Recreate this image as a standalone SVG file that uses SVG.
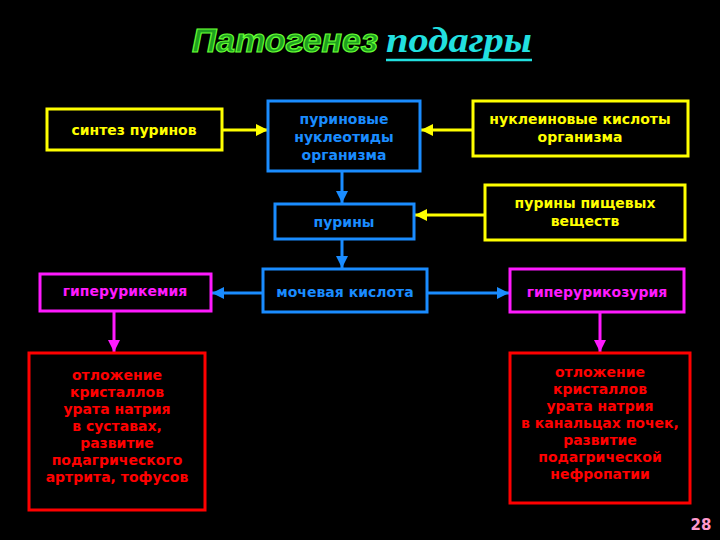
<svg xmlns="http://www.w3.org/2000/svg" width="720" height="540" viewBox="0 0 720 540">
<defs>
<style>
.bg{fill:#000}
rect{fill:#000;stroke-width:3}
.y rect{stroke:#ffff00}
.b rect{stroke:#1a8cff}
.m rect{stroke:#ff1aff}
.r rect{stroke:#ff0000}
text{font-family:"DejaVu Sans","Liberation Sans",sans-serif;font-weight:bold;font-size:14px;text-anchor:middle}
.y text{fill:#ffff00}
.b text{fill:#1a8cff}
.m text{fill:#ff1aff}
.r text{fill:#ff0000}
.cy{stroke:#ffff00;stroke-width:3;fill:none}
.cb{stroke:#1a8cff;stroke-width:3;fill:none}
.cm{stroke:#ff1aff;stroke-width:3;fill:none}
</style>
<marker id="ay" viewBox="0 0 10 10" refX="10" refY="5" markerWidth="4" markerHeight="4" orient="auto" markerUnits="strokeWidth"><path d="M0,0 L10,5 L0,10 z" fill="#ffff00"/></marker>
<marker id="ab" viewBox="0 0 10 10" refX="10" refY="5" markerWidth="4" markerHeight="4" orient="auto" markerUnits="strokeWidth"><path d="M0,0 L10,5 L0,10 z" fill="#1a8cff"/></marker>
<marker id="am" viewBox="0 0 10 10" refX="10" refY="5" markerWidth="4" markerHeight="4" orient="auto" markerUnits="strokeWidth"><path d="M0,0 L10,5 L0,10 z" fill="#ff1aff"/></marker>
</defs>
<rect class="bg" x="0" y="0" width="720" height="540" style="stroke:none"/>
<g id="title">
<text x="192" y="52" style="text-anchor:start;font-family:'Liberation Sans',sans-serif;font-style:italic;font-weight:bold;font-size:34px;fill:#1f9f1f;stroke:#66ff33;stroke-width:1.2" textLength="186" lengthAdjust="spacingAndGlyphs">Патогенез</text>
<text x="386" y="52" style="text-anchor:start;font-family:'Liberation Serif',serif;font-style:italic;font-weight:bold;font-size:36px;fill:#22e0e0" textLength="146" lengthAdjust="spacingAndGlyphs">подагры</text>
<line x1="386" y1="60" x2="532" y2="60" stroke="#22e0e0" stroke-width="2.5"/>
</g>
<g id="connectors">
<line class="cy" x1="222" y1="130" x2="268" y2="130" marker-end="url(#ay)"/>
<line class="cy" x1="473" y1="130" x2="421" y2="130" marker-end="url(#ay)"/>
<line class="cb" x1="342" y1="171" x2="342" y2="203" marker-end="url(#ab)"/>
<line class="cy" x1="485" y1="215" x2="415" y2="215" marker-end="url(#ay)"/>
<line class="cb" x1="342" y1="239" x2="342" y2="268" marker-end="url(#ab)"/>
<line class="cb" x1="263" y1="293" x2="212" y2="293" marker-end="url(#ab)"/>
<line class="cb" x1="427" y1="293" x2="509" y2="293" marker-end="url(#ab)"/>
<line class="cm" x1="114" y1="311" x2="114" y2="352" marker-end="url(#am)"/>
<line class="cm" x1="600" y1="312" x2="600" y2="352" marker-end="url(#am)"/>
</g>
<g id="n1" class="y"><rect x="47" y="109" width="175" height="41"/><text x="134" y="135">синтез пуринов</text></g>
<g id="n2" class="b"><rect x="268" y="101" width="152" height="70"/><text x="344" y="124">пуриновые</text><text x="344" y="142">нуклеотиды</text><text x="344" y="160">организма</text></g>
<g id="n3" class="y"><rect x="473" y="101" width="215" height="55"/><text x="580" y="124">нуклеиновые кислоты</text><text x="580" y="142">организма</text></g>
<g id="n4" class="b"><rect x="275" y="204" width="139" height="35"/><text x="344" y="227">пурины</text></g>
<g id="n5" class="y"><rect x="485" y="185" width="200" height="55"/><text x="585" y="208">пурины пищевых</text><text x="585" y="226">веществ</text></g>
<g id="n6" class="m"><rect x="40" y="274" width="171" height="37"/><text x="125" y="296">гиперурикемия</text></g>
<g id="n7" class="b"><rect x="263" y="269" width="164" height="43"/><text x="345" y="297">мочевая кислота</text></g>
<g id="n8" class="m"><rect x="510" y="269" width="174" height="43"/><text x="597" y="297">гиперурикозурия</text></g>
<g id="n9" class="r"><rect x="29" y="353" width="176" height="157"/>
<text x="117" y="380">отложение</text><text x="117" y="397">кристаллов</text><text x="117" y="414">урата натрия</text><text x="117" y="431">в суставах,</text><text x="117" y="448">развитие</text><text x="117" y="465">подагрического</text><text x="117" y="482">артрита, тофусов</text></g>
<g id="n10" class="r"><rect x="510" y="353" width="180" height="150"/>
<text x="600" y="377">отложение</text><text x="600" y="394">кристаллов</text><text x="600" y="411">урата натрия</text><text x="600" y="428">в канальцах почек,</text><text x="600" y="445">развитие</text><text x="600" y="462">подагрической</text><text x="600" y="479">нефропатии</text></g>
<text x="701" y="530" style="font-size:15px;fill:#ff99cc">28</text>
</svg>
